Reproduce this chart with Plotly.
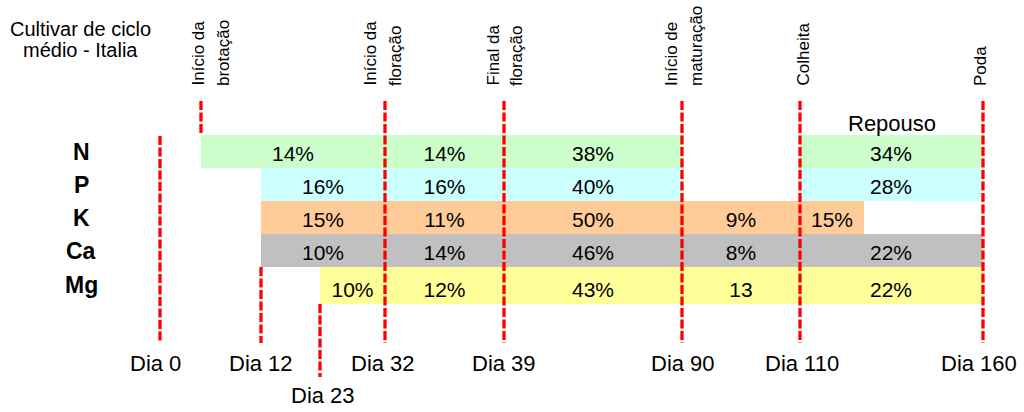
import plotly.graph_objects as go

# ---------------- data ----------------
elements = ["N", "P", "K", "Ca", "Mg"]
colors = ["#CCFFCC", "#CCFFFF", "#FFCC99", "#C0C0C0", "#FFFF99"]

# schematic positions of the phase markers along the diagram (not proportional to days)
phase_names = ["Dia 0", "Início da brotação", "Dia 12", "Dia 23", "Início da floração",
               "Final da floração", "Início de maturação", "Colheita", "Fim K", "Poda"]
phase_pos = [160, 201, 261, 320, 385, 504, 682, 800, 864, 982]
P = dict(zip(phase_names, phase_pos))

# segments per element: (start phase, end phase, label)
seg_N = [("Início da brotação", "Início da floração", "14%"),
         ("Início da floração", "Final da floração", "14%"),
         ("Final da floração", "Início de maturação", "38%"),
         ("Colheita", "Poda", "34%")]
seg_P = [("Dia 12", "Início da floração", "16%"),
         ("Início da floração", "Final da floração", "16%"),
         ("Final da floração", "Início de maturação", "40%"),
         ("Colheita", "Poda", "28%")]
seg_K = [("Dia 12", "Início da floração", "15%"),
         ("Início da floração", "Final da floração", "11%"),
         ("Final da floração", "Início de maturação", "50%"),
         ("Início de maturação", "Colheita", "9%"),
         ("Colheita", "Fim K", "15%")]
seg_Ca = [("Dia 12", "Início da floração", "10%"),
          ("Início da floração", "Final da floração", "14%"),
          ("Final da floração", "Início de maturação", "46%"),
          ("Início de maturação", "Colheita", "8%"),
          ("Colheita", "Poda", "22%")]
seg_Mg = [("Dia 23", "Início da floração", "10%"),
          ("Início da floração", "Final da floração", "12%"),
          ("Final da floração", "Início de maturação", "43%"),
          ("Início de maturação", "Colheita", "13"),
          ("Colheita", "Poda", "22%")]
segments = [seg_N, seg_P, seg_K, seg_Ca, seg_Mg]

day_labels = ["Dia 0", "Dia 12", "Dia 23", "Dia 32", "Dia 39", "Dia 90", "Dia 110", "Dia 160"]
top_labels = [["Início da", "brotação"], ["Início da", "floração"], ["Final da", "floração"],
              ["Início de", "maturação"], ["Colheita"], ["Poda"]]

# ---------------- layout helpers ----------------
W, H = 1024, 412
row_y = [0, 1, 2, 3, 4.06]
row_h = [1, 1, 1, 1, 1.12]
ROW_PX = 33.0
ROW0_PX = 151.5
FONT = "Liberation Sans, Arial, sans-serif"


def py(p):  # pixel row -> paper y
    return 1 - p / H


fig = go.Figure()

for i, el in enumerate(elements):
    segs = segments[i]
    base = [P[a] for a, b, t in segs]
    widths = [P[b] - P[a] for a, b, t in segs]
    fig.add_trace(go.Bar(
        orientation="h", y=[row_y[i]] * len(segs), x=widths, base=base,
        width=[row_h[i]] * len(segs), marker=dict(color=colors[i], line=dict(width=0)),
        hoverinfo="skip", showlegend=False))
    fig.add_trace(go.Scatter(
        x=[b + w / 2 for b, w in zip(base, widths)],
        y=[row_y[i] + 0.12 + (0.06 if el == "Mg" else 0)] * len(segs),
        text=[t for a, b, t in segs], mode="text", textposition="middle center",
        textfont=dict(family=FONT, size=21, color="black"),
        hoverinfo="skip", showlegend=False))

# vertical dashed red marker lines (x position, top px, bottom px)
vlines = [("Dia 0", 136, 343), ("Início da brotação", 101, 135), ("Dia 12", 267, 343),
          ("Dia 23", 304, 377), ("Início da floração", 101, 343), ("Final da floração", 101, 343),
          ("Início de maturação", 101, 343), ("Colheita", 101, 343), ("Poda", 101, 343)]
for name, t, b in vlines:
    x = P[name] + (1 if name == "Poda" else 0)
    fig.add_shape(type="line", xref="x", yref="paper", x0=x, x1=x, y0=py(t), y1=py(b),
                  line=dict(color="#FF0000", width=3.3, dash="9px,2.5px"), layer="above")

annotations = []
# row labels
for i, el in enumerate(elements):
    annotations.append(dict(x=81, y=row_y[i], xref="x", yref="y", text="<b>%s</b>" % el,
                            showarrow=False, xanchor="center", yanchor="middle",
                            font=dict(family=FONT, size=23, color="black")))
# day labels
day_x = [155, 261, 323, 383, 504, 683, 802, 979]
day_y = [363, 363, 395, 363, 363, 363, 363, 363]
for t, x, yy in zip(day_labels, day_x, day_y):
    annotations.append(dict(x=x, y=py(yy), xref="x", yref="paper", text=t, showarrow=False,
                            xanchor="center", yanchor="middle",
                            font=dict(family=FONT, size=22, color="black")))
# rotated top labels
top_x = [[198, 223], [370, 395], [493, 516], [671, 696], [803], [980]]
for lines, xs in zip(top_labels, top_x):
    for t, x in zip(lines, xs):
        annotations.append(dict(x=x, y=py(88), xref="x", yref="paper", text=t, showarrow=False,
                                textangle=-90, xanchor="center", yanchor="bottom",
                                font=dict(family=FONT, size=17, color="black")))
# title text
annotations.append(dict(x=80, y=py(29), xref="x", yref="paper", text="Cultivar de ciclo",
                        showarrow=False, xanchor="center", yanchor="middle",
                        font=dict(family=FONT, size=20, color="black")))
annotations.append(dict(x=80, y=py(50), xref="x", yref="paper", text="médio - Italia",
                        showarrow=False, xanchor="center", yanchor="middle",
                        font=dict(family=FONT, size=20, color="black")))
annotations.append(dict(x=892, y=py(124), xref="x", yref="paper", text="Repouso",
                        showarrow=False, xanchor="center", yanchor="middle",
                        font=dict(family=FONT, size=22, color="black")))

y_top = (0 - ROW0_PX) / ROW_PX
y_bot = (H - ROW0_PX) / ROW_PX
fig.update_layout(
    width=W, height=H, margin=dict(l=0, r=0, t=0, b=0),
    paper_bgcolor="white", plot_bgcolor="white", barmode="overlay", bargap=0,
    xaxis=dict(range=[0, W], visible=False, fixedrange=True),
    yaxis=dict(range=[y_bot, y_top], visible=False, fixedrange=True),
    annotations=annotations, font=dict(family=FONT))

fig.write_html("out.html")
